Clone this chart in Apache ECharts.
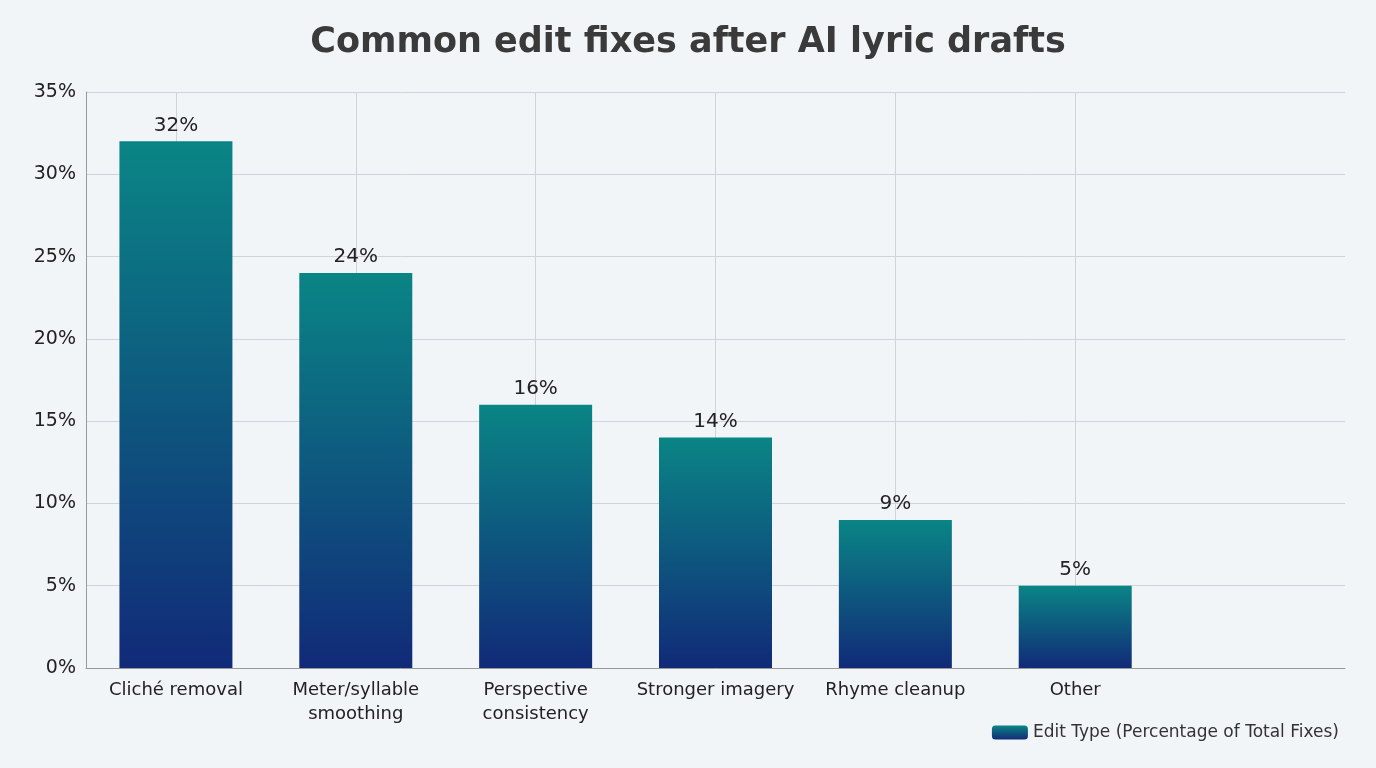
<!DOCTYPE html>
<html><head><meta charset="utf-8">
<script src="https://cdn.jsdelivr.net/npm/echarts@6/dist/echarts.min.js"></script>
<style>html,body{margin:0;background:#f1f5f8}#c{width:1376px;height:768px}</style>
</head><body><div id="c"></div>
<script>
const categories = ['Cliché removal','Meter/syllable\nsmoothing','Perspective\nconsistency','Stronger imagery','Rhyme cleanup','Other',''];
const values = [32,24,16,14,9,5,null];
const yTicks = [0,5,10,15,20,25,30,35];
const chart = echarts.init(document.getElementById('c'));
const grad = new echarts.graphic.LinearGradient(0,0,0,1,[{offset:0,color:'#0a8585'},{offset:1,color:'#112a78'}]);
chart.setOption({
  backgroundColor:'#f1f5f8',
  title:{text:'Common edit fixes after AI lyric drafts',left:'center',top:20,padding:[5,0,5,18],textStyle:{fontSize:35,fontWeight:'bold',color:'#3a3a3a',fontFamily:'DejaVu Sans'}},
  legend:{right:32,bottom:22,itemWidth:36,itemHeight:14,textStyle:{fontSize:17,color:'#333',fontFamily:'DejaVu Sans'},data:[{name:'Edit Type (Percentage of Total Fixes)',itemStyle:{color:grad,borderRadius:0}}]},
  grid:{left:86,right:31,top:92,bottom:100},
  xAxis:{type:'category',data:categories,axisTick:{show:false},axisLine:{lineStyle:{color:'#999'}},
    axisLabel:{fontSize:18,color:'#222',fontFamily:'DejaVu Sans',margin:10,lineHeight:24,interval:0},splitLine:{show:false}},
  yAxis:{type:'value',min:0,max:35,interval:5,axisLine:{show:true,lineStyle:{color:'#999'}},
    axisLabel:{fontSize:19,color:'#222',fontFamily:'DejaVu Sans',formatter:v=>v+'%',margin:10},
    splitLine:{lineStyle:{color:'#d0d4da'}}},
  series:[{name:'Edit Type (Percentage of Total Fixes)',type:'bar',data:values,barWidth:113,
    itemStyle:{color:grad},
    label:{show:true,position:'top',formatter:p=>p.value+'%',fontSize:20,color:'#222',fontFamily:'DejaVu Sans',distance:6},
    markLine:{silent:true,symbol:'none',label:{show:false},lineStyle:{color:'#d0d4da',type:'solid',width:1},z:0,
      data:categories.slice(0,6).map(c=>({xAxis:c}))}
  }]
});
</script></body></html>
